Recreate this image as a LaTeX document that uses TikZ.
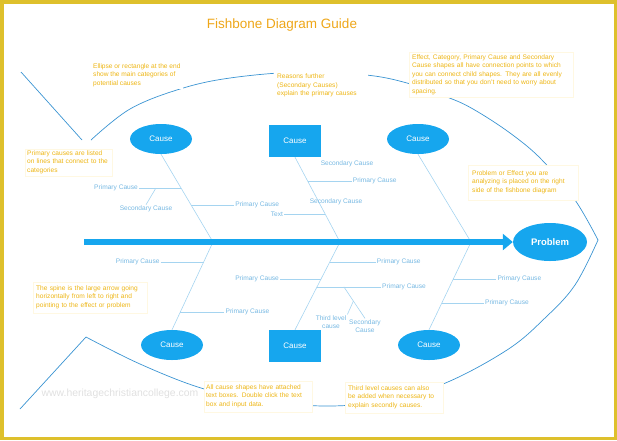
\documentclass[tikz,border=0pt]{standalone}
\usepackage{fontspec}
\setmainfont{Liberation Sans}
\usetikzlibrary{arrows.meta,calc,positioning,shapes.geometric}
\definecolor{framecol}{RGB}{222,192,44}
\definecolor{causeblue}{RGB}{22,166,238}
\definecolor{bonecol}{RGB}{165,212,240}
\definecolor{bonetext}{RGB}{118,184,226}
\definecolor{fishcol}{RGB}{58,148,210}
\definecolor{notecol}{RGB}{238,182,20}
\definecolor{noteline}{RGB}{255,248,226}
\definecolor{titlecol}{RGB}{238,166,24}
\tikzset{cause/.style={fill=causeblue,text=white,inner sep=0pt,font=\fontsize{8}{9}\selectfont},
  ecause/.style={cause,ellipse,minimum width=62pt,minimum height=30pt},
  rcause/.style={cause,rectangle,minimum width=52pt,minimum height=32pt},
  notebox/.style={fill=white,draw=noteline,align=left,text=notecol,anchor=north west,
    inner xsep=3pt,inner ysep=4pt,font=\fontsize{6.6}{8.4}\selectfont},
  lbl/.style={text=bonetext,inner sep=1pt,font=\fontsize{6.6}{8}\selectfont},
  bone/.style={draw=bonecol,line width=0.6pt}}

\begin{document}
\begin{tikzpicture}[x=1pt,y=-1pt,
  fish/.style={draw=fishcol,line width=0.7pt}]
\useasboundingbox (0,0) rectangle (617,440);
\draw[framecol,line width=3.5pt] (1.75,1.75) rectangle (615.25,438.25);
\node[text=titlecol,font=\fontsize{13.5}{15}\selectfont] (title) at (282,25) {Fishbone Diagram Guide};
\node[text=black!12,font=\fontsize{10.4}{12}\selectfont] (mark) at (120,394) {www.heritagechristiancollege.com};

% body of the fish
\draw[fish] (21,72) -- (82,140);
\draw[fish] plot[smooth,tension=.6] coordinates {(91,140) (130,109) (180,89) (230,78) (300,72) (366,75)
  (407,83) (447,97) (473,109) (510,133) (542,160) (575,200) (598,240)};
\draw[fish] plot[smooth,tension=.6] coordinates {(598,240) (575,285) (545,318) (507,350) (443,384)
  (380,401) (327,406) (260,401) (201,388) (140,364) (86,337)} -- (20,409);

\coordinate (tail) at (84,242);
\coordinate (sp1) at (213,242);
\coordinate (sp2) at (340,242);
\coordinate (sp3) at (471,242);
\node[ecause] (c1) at (161,139) {Cause};
\node[rcause] (c2) at (295,141) {Cause};
\node[ecause] (c3) at (418,139) {Cause};
\node[ecause] (c4) at (172,345) {Cause};
\node[rcause] (c5) at (295,346) {Cause};
\node[ecause] (c6) at (429,345) {Cause};
\foreach \c/\s in {c1.south/sp1,c2.south/sp2,c3.south/sp3,c4.north/sp1,c5.north/sp2,c6.north/sp3}
  \draw[bone] (\c) -- (\s);

\coordinate (b1a) at ($(c1.south)!.386!(sp1)$);
\coordinate (b1c) at ($(c1.south)!.58!(sp1)$);
\coordinate (b2a) at ($(c2.south)!.282!(sp2)$);
\coordinate (b2b) at ($(c2.south)!.671!(sp2)$);
\coordinate (b4a) at ($(c4.north)!.773!(sp1)$);
\coordinate (b4b) at ($(c4.north)!.205!(sp1)$);
\coordinate (b5a) at ($(c5.north)!.773!(sp2)$);
\coordinate (b5b) at ($(c5.north)!.58!(sp2)$);
\coordinate (b5c) at ($(c5.north)!.489!(sp2)$);
\coordinate (b6a) at ($(c6.north)!.58!(sp3)$);
\coordinate (b6b) at ($(c6.north)!.307!(sp3)$);

\node[lbl,left=42pt of b1a] (p1) {Primary Cause};
\node[lbl,right=43pt of b1c] (p2) {Primary Cause};
\node[lbl,right=44pt of b2a] (p3) {Primary Cause};
\node[lbl,left=41pt of b2b] (p4) {Text};
\node[lbl,left=43pt of b4a] (p5) {Primary Cause};
\node[lbl,right=44pt of b4b] (p6) {Primary Cause};
\node[lbl,right=46pt of b5a] (p7) {Primary Cause};
\node[lbl,left=41pt of b5b] (p8) {Primary Cause};
\node[lbl,right=64pt of b5c] (p9) {Primary Cause};
\node[lbl,right=43pt of b6a] (p10) {Primary Cause};
\node[lbl,right=42pt of b6b] (p11) {Primary Cause};
\draw[bone] (p1) -- (b1a);
\draw[bone] (b1c) -- (p2);
\draw[bone] (b2a) -- (p3);
\draw[bone] (p4) -- (b2b);
\draw[bone] (p5) -- (b4a);
\draw[bone] (b4b) -- (p6);
\draw[bone] (b5a) -- (p7);
\draw[bone] (p8) -- (b5b);
\draw[bone] (b5c) -- (p9);
\draw[bone] (b6a) -- (p10);
\draw[bone] (b6b) -- (p11);

\node[lbl] (q1) at (146,209) {Secondary Cause};
\node[lbl] (q2) at (347,164) {Secondary Cause};
\node[lbl] (q3) at (336,202) {Secondary Cause};
\node[lbl,align=center] (q4) at (365,326) {Secondary\\Cause};
\node[lbl,align=center] (q5) at (331,322) {Third level\\cause};
\coordinate (b1b) at ($(p1.east)!.4!(b1a)$);
\coordinate (b5d) at ($(b5c)!.42!(p9.west)$);
\coordinate (b5e) at ($(b5d)!.45!(q4.north)$);
\draw[bone] (b1b) -- (q1.north);
\draw[bone] (b5d) -- (q4.north);
\draw[bone] (b5e) -- (q5.north east);

\node[cause,ellipse,minimum width=74pt,minimum height=38pt,font=\bfseries\fontsize{9.5}{11}\selectfont] (prob) at (550,242) {Problem};
\draw[causeblue,line width=6.5pt,-{Triangle[length=10pt,width=16pt]}] (tail) -- (prob.west);

\node[notebox,draw=none,inner sep=2pt] (n1) at (91,61.5) {Ellipse or rectangle at the end\\show the main categories of\\potential causes};
\node[notebox,inner sep=2pt,text width=83pt] (n2) at (25,148.6) {Primary causes are listed\\on lines that connect to the\\categories};
\node[notebox,draw=none,text width=88pt] (n3) at (274,70) {Reasons further\\(Secondary Causes)\\explain the primary causes};
\node[notebox,inner ysep=2.6pt,text width=158pt] (n4) at (409,52) {Effect, Category, Primary Cause and Secondary\\Cause shapes all have connection points to which\\you can connect child shapes. They are all evenly\\distributed so that you don't need to worry about\\spacing.};
\node[notebox,inner xsep=4pt,inner ysep=6pt,text width=102pt] (n5) at (468,164.6) {Problem or Effect you are\\analyzing is placed on the right\\side of the fishbone diagram};
\node[notebox,text width=108pt] (n6) at (33,281.6) {The spine is the large arrow going\\horizontally from left to right and\\pointing to the effect or problem};
\node[notebox,inner xsep=2pt,text width=104pt] (n7) at (204,380.6) {All cause shapes have attached\\text boxes. Double click the text\\box and input data.};
\node[notebox,text width=92pt] (n8) at (345,381.6) {Third level causes can also\\be added when necessary to\\explain secondly causes.};
\end{tikzpicture}
\end{document}
